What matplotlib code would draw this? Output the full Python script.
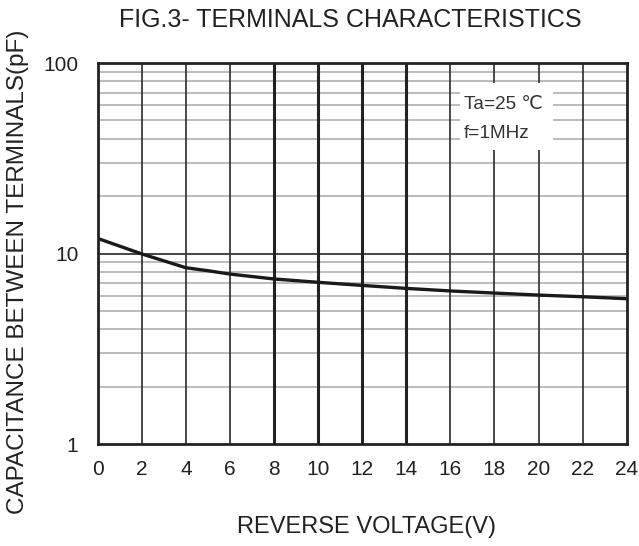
import matplotlib
matplotlib.use("Agg")
import matplotlib.pyplot as plt
from matplotlib.patches import Rectangle
import numpy as np

plt.rcParams['font.family'] = ['Liberation Sans', 'DejaVu Sans']

voltage = [0, 2, 4, 5, 6, 8, 10, 12, 14, 16, 18, 20, 22, 24]
capacitance = [12.0, 9.95, 8.42, 8.12, 7.80, 7.35, 7.06, 6.80, 6.56, 6.36, 6.20, 6.05, 5.93, 5.79]
x_ticks = list(range(0, 25, 2))
bold_x = [8, 10, 12, 14]
y_ticks = [1, 10, 100]
y_minor = [2, 3, 4, 5, 6, 7, 8, 9, 20, 30, 40, 50, 60, 70, 80, 90]

fig = plt.figure(figsize=(6.39, 5.46), dpi=100)
ax = fig.add_axes([0.1529, 0.1868, 0.8279, 0.6978])
ax.set_yscale('log')
ax.set_xlim(0, 24)
ax.set_ylim(1, 100)

# grid
for y in y_minor:
    ax.axhline(y, color='#a8a8a8', lw=1.1, zorder=1)
ax.axhline(10, color='#444444', lw=1.4, zorder=1)
for x in x_ticks[1:-1]:
    if x in bold_x:
        ax.axvline(x, color='#222222', lw=2.2, zorder=2)
    else:
        ax.axvline(x, color='#3a3a3a', lw=1.3, zorder=2)

# annotation box
ax.add_patch(Rectangle((16.45, 35.0), 4.2, 78.5 - 35.0, facecolor='white',
                       edgecolor='none', zorder=3))
ax.text(16.6, 60.5, 'Ta=25 \u2103', fontsize=13.7, color='#333333', va='center', ha='left', zorder=4)
ax.text(16.6, 42.5, 'f=1MHz', fontsize=13.7, color='#333333', va='center', ha='left', zorder=4)

ax.plot(voltage, capacitance, color='#1a1a1a', lw=2.4, zorder=5, solid_capstyle='butt')

for s in ax.spines.values():
    s.set_linewidth(2.0)
    s.set_color('#222222')
    s.set_zorder(6)

ax.set_xticks(x_ticks)
ax.set_xticklabels([str(v) for v in x_ticks])
ax.set_yticks(y_ticks)
ax.set_yticklabels([str(v) for v in y_ticks])
ax.yaxis.set_minor_locator(matplotlib.ticker.NullLocator())
ax.tick_params(axis='both', length=0, labelsize=15, colors='#222222')
ax.tick_params(axis='x', pad=11.5)
ax.tick_params(axis='y', pad=14)

fig.text(0.573, 0.035, 'REVERSE VOLTAGE(V)', fontsize=17, color='#222222',
         ha='center', va='center')
fig.text(0.028, 0.502, 'CAPACITANCE BETWEEN TERMINALS(pF)', fontsize=17.5, color='#222222',
         ha='center', va='center', rotation=90)
fig.text(0.5485, 0.963, 'FIG.3- TERMINALS CHARACTERISTICS', fontsize=18, color='#222222',
         ha='center', va='center')

fig.savefig('out.png', dpi=100)
